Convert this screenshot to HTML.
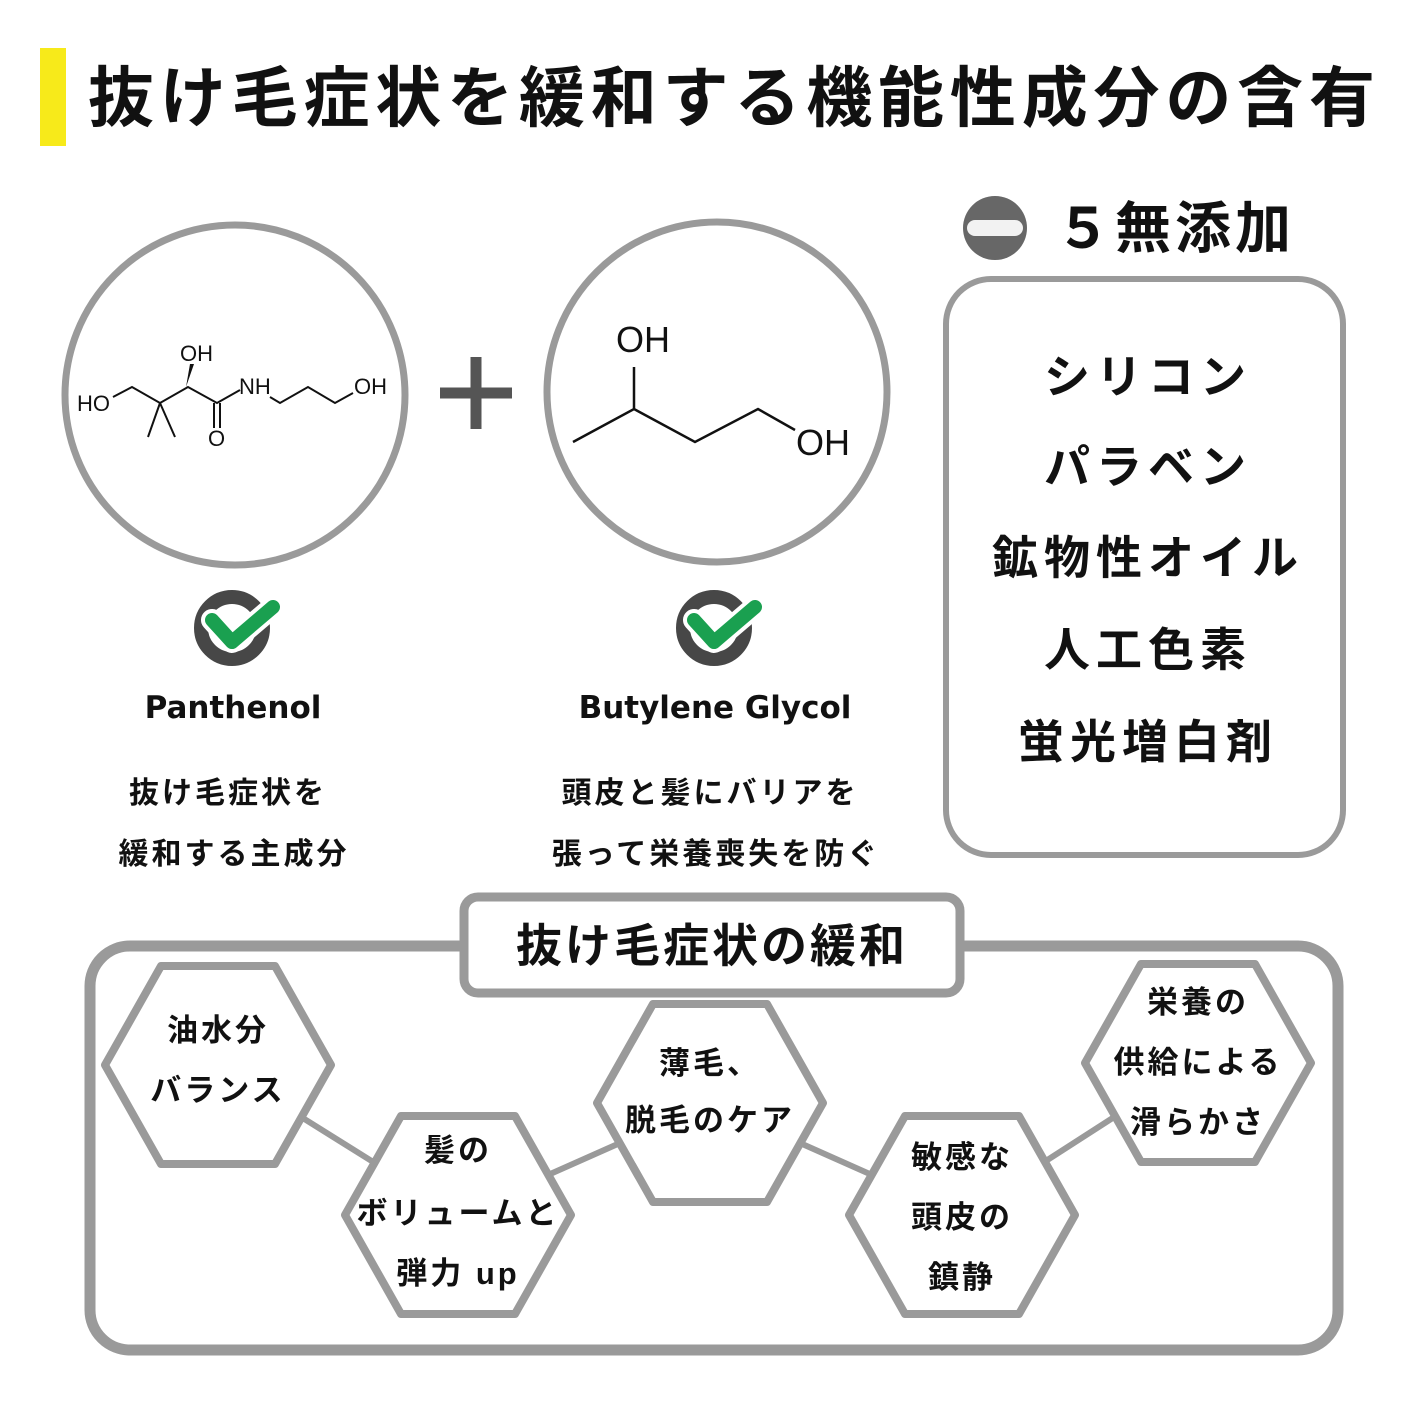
<!DOCTYPE html>
<html><head><meta charset="utf-8"><style>body{margin:0;background:#fff}svg{display:block}</style></head><body>
<svg width="1417" height="1417" viewBox="0 0 1417 1417" xmlns="http://www.w3.org/2000/svg" font-family="'Liberation Sans','Noto Sans CJK JP',sans-serif">
<rect width="1417" height="1417" fill="#fff"/>
<rect x="40" y="48" width="26" height="98" fill="#f7ea1a"/>
<text x="88" y="121" font-size="66" font-weight="bold" fill="#111" textLength="1287" lengthAdjust="spacing">抜け毛症状を緩和する機能性成分の含有</text>

<circle cx="235" cy="395" r="170" fill="none" stroke="#9a9a9a" stroke-width="7"/>
<circle cx="717" cy="392" r="170" fill="none" stroke="#9a9a9a" stroke-width="7"/>
<path d="M476 357V429M440 393H512" stroke="#555" stroke-width="11"/>

<g stroke="#111" stroke-width="2" fill="none">
<path d="M113 397L132 387L160 403L188 387L217 403L240 390"/>
<path d="M160 403L148 437M160 403L175 437"/>
<path d="M214 403V428M220 403V428"/>
<path d="M270 397L280 403L308 387L335 403L353 393"/>
</g>
<path d="M186 387L190 364L194 364Z" fill="#111"/>
<g font-size="22" fill="#111">
<text x="77" y="411">HO</text>
<text x="180" y="361">OH</text>
<text x="208" y="446">O</text>
<text x="239" y="394">NH</text>
<text x="354" y="394">OH</text>
</g>
<path d="M573 442L634 409L695 442L758 409L795 430M634 409V367" stroke="#111" stroke-width="2.5" fill="none"/>
<g font-size="36" fill="#111">
<text x="616" y="352">OH</text>
<text x="796" y="455">OH</text>
</g>

<g>
<circle cx="232" cy="628" r="31" fill="none" stroke="#474747" stroke-width="14"/>
<path d="M212 620L232 642L273 607" fill="none" stroke="#fff" stroke-width="22" stroke-linecap="round" stroke-linejoin="round"/>
<path d="M212 620L232 642L273 607" fill="none" stroke="#1aa050" stroke-width="14" stroke-linecap="round" stroke-linejoin="round"/>
</g>
<g transform="translate(482,0)">
<circle cx="232" cy="628" r="31" fill="none" stroke="#474747" stroke-width="14"/>
<path d="M212 620L232 642L273 607" fill="none" stroke="#fff" stroke-width="22" stroke-linecap="round" stroke-linejoin="round"/>
<path d="M212 620L232 642L273 607" fill="none" stroke="#1aa050" stroke-width="14" stroke-linecap="round" stroke-linejoin="round"/>
</g>
<g font-size="31" font-weight="bold" fill="#111" text-anchor="middle" font-family="'DejaVu Sans','Liberation Sans',sans-serif">
<text x="233" y="718">Panthenol</text>
<text x="715" y="718">Butylene Glycol</text>
</g>
<g font-size="30" font-weight="bold" fill="#111" text-anchor="middle" letter-spacing="3">
<text x="228" y="803">抜け毛症状を</text>
<text x="234" y="864">緩和する主成分</text>
<text x="710" y="803">頭皮と髪にバリアを</text>
<text x="716" y="864">張って栄養喪失を防ぐ</text>
</g>

<circle cx="995" cy="228" r="32" fill="#676767"/>
<rect x="967" y="220" width="56" height="16" rx="8" fill="#f2f2f2"/>
<text x="1055" y="248" font-size="56" font-weight="bold" fill="#111" letter-spacing="4">５無添加</text>
<rect x="946" y="279" width="397" height="576" rx="45" fill="none" stroke="#9a9a9a" stroke-width="6"/>
<g font-size="46" font-weight="bold" fill="#111" text-anchor="middle" letter-spacing="6">
<text x="1148" y="393">シリコン</text>
<text x="1148" y="483">パラベン</text>
<text x="1148" y="574">鉱物性オイル</text>
<text x="1148" y="666">人工色素</text>
<text x="1148" y="758">蛍光増白剤</text>
</g>

<rect x="90" y="946" width="1248" height="404" rx="40" fill="none" stroke="#9a9a9a" stroke-width="11"/>
<path d="M218 1065L458 1215L710 1103L962 1215L1198 1063" fill="none" stroke="#9a9a9a" stroke-width="6"/>
<g fill="#fff" stroke="#9a9a9a" stroke-width="8" stroke-linejoin="round">
<path transform="translate(218,1065)" d="M-113 0L-57 -99H57L113 0L57 99H-57Z"/>
<path transform="translate(458,1215)" d="M-113 0L-57 -99H57L113 0L57 99H-57Z"/>
<path transform="translate(710,1103)" d="M-113 0L-57 -99H57L113 0L57 99H-57Z"/>
<path transform="translate(962,1215)" d="M-113 0L-57 -99H57L113 0L57 99H-57Z"/>
<path transform="translate(1198,1063)" d="M-113 0L-57 -99H57L113 0L57 99H-57Z"/>
</g>
<rect x="464" y="897" width="496" height="96" rx="14" fill="#fff" stroke="#9a9a9a" stroke-width="9"/>
<text x="712" y="962" font-size="46" font-weight="bold" fill="#111" text-anchor="middle" letter-spacing="3">抜け毛症状の緩和</text>
<g font-size="31" font-weight="bold" fill="#111" text-anchor="middle" letter-spacing="3">
<text x="218" y="1041">油水分</text>
<text x="218" y="1101">バランス</text>
<text x="458" y="1161">髪の</text>
<text x="458" y="1224">ボリュームと</text>
<text x="458" y="1284">弾力 up</text>
<text x="710" y="1074">薄毛、</text>
<text x="710" y="1131">脱毛のケア</text>
<text x="962" y="1168">敏感な</text>
<text x="962" y="1228">頭皮の</text>
<text x="962" y="1288">鎮静</text>
<text x="1198" y="1013">栄養の</text>
<text x="1198" y="1073">供給による</text>
<text x="1198" y="1133">滑らかさ</text>
</g>
</svg>
</body></html>
